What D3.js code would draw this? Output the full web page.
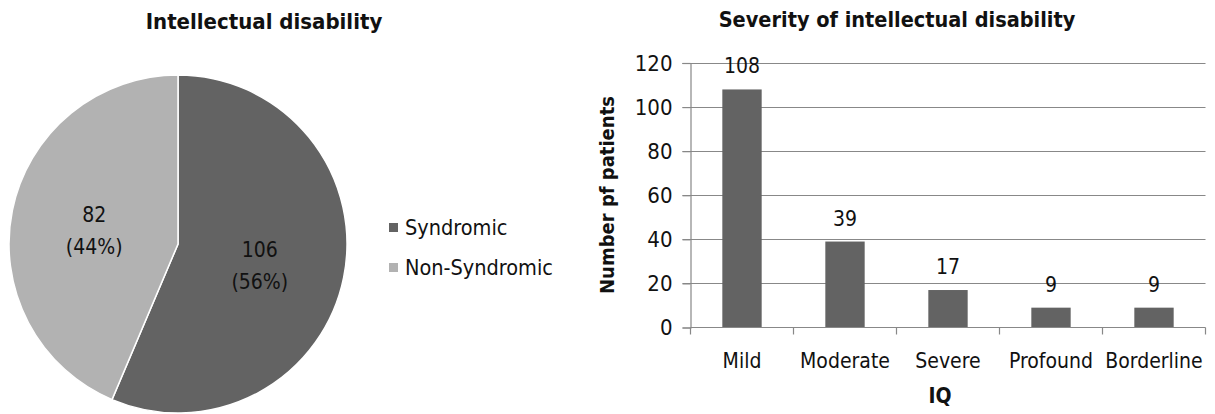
<!DOCTYPE html>
<html>
<head>
<meta charset="utf-8">
<script src="https://cdn.jsdelivr.net/npm/d3@7"></script>
<style>
  html, body { margin: 0; padding: 0; background: #fff; }
  svg { display: block; }
  text { font-family: "DejaVu Sans Condensed", "Liberation Sans Narrow", "Arial Narrow", sans-serif; fill: #111; }
  .title { font-weight: bold; }
</style>
</head>
<body>
<svg id="chart" width="1215" height="414"></svg>
<script>
// Pie: syndromic vs non-syndromic intellectual disability
const pieLabels = ["Syndromic", "Non-Syndromic"];
const pieValues = [106, 82];
const pieColors = ["#636363", "#b2b2b2"];

// Bars: patients by IQ severity category
const severityCategories = ["Mild", "Moderate", "Severe", "Profound", "Borderline"];
const severityCounts = [108, 39, 17, 9, 9];
const yTicks = [0, 20, 40, 60, 80, 100, 120];

const svg = d3.select("#chart");
const bodySize = 21;

// ---------- Pie chart ----------
svg.append("text").attr("class", "title")
  .attr("x", 264).attr("y", 29)
  .attr("text-anchor", "middle").attr("font-size", 22)
  .text("Intellectual disability");

const cx = 178, cy = 244, r = 169;
const total = d3.sum(pieValues);
const pie = d3.pie().sort(null).value(d => d)(pieValues);
const arc = d3.arc().innerRadius(0).outerRadius(r);
const pg = svg.append("g").attr("transform", `translate(${cx},${cy})`);
pg.selectAll("path").data(pie).join("path")
  .attr("d", arc)
  .attr("fill", (d, i) => pieColors[i])
  .attr("stroke", "#fff").attr("stroke-width", 1.5);

const labelArc = d3.arc().innerRadius(r * 0.5).outerRadius(r * 0.5);
const labelOffsets = [[-1, -1], [-1, -2]];
pie.forEach((d, i) => {
  const [lx, ly] = labelArc.centroid(d);
  const t = pg.append("text")
    .attr("text-anchor", "middle").attr("font-size", bodySize)
    .attr("transform", `translate(${lx + labelOffsets[i][0]},${ly + labelOffsets[i][1]})`);
  t.append("tspan").attr("x", 0).attr("dy", "-0.15em").text(d.value);
  t.append("tspan").attr("x", 0).attr("dy", "1.52em")
    .text(`(${Math.round(d.value / total * 100)}%)`);
});

const lg = svg.append("g").attr("transform", "translate(389,235)");
pieLabels.forEach((name, i) => {
  const row = lg.append("g").attr("transform", `translate(0,${i * 40})`);
  row.append("rect").attr("x", 0).attr("y", -12).attr("width", 9).attr("height", 9)
    .attr("fill", pieColors[i]);
  row.append("text").attr("x", 16).attr("y", 0).attr("font-size", bodySize + 0.5).text(name);
});

// ---------- Bar chart ----------
svg.append("text").attr("class", "title")
  .attr("x", 897).attr("y", 27)
  .attr("text-anchor", "middle").attr("font-size", 21.5)
  .text("Severity of intellectual disability");

const x0 = 690.5, x1 = 1205.5, yTop = 63, yBot = 327.5;
const x = d3.scaleBand().domain(severityCategories).range([x0, x1]).paddingInner(0.618).paddingOuter(0.309);
const y = d3.scaleLinear().domain([0, 120]).range([yBot, yTop]);
const axisColor = "#888";

// gridlines
svg.append("g").selectAll("line").data(yTicks.filter(v => v > 0)).join("line")
  .attr("x1", x0 - 8).attr("x2", x1)
  .attr("y1", d => Math.round(y(d)) + 0.5).attr("y2", d => Math.round(y(d)) + 0.5)
  .attr("stroke", axisColor).attr("stroke-width", 1.2);

// y axis
const yAxis = svg.append("g").attr("transform", `translate(${x0},0)`)
  .call(d3.axisLeft(y).tickValues(yTicks).tickSize(8).tickPadding(10));
yAxis.select(".domain").attr("stroke", axisColor).attr("stroke-width", 1.2);
yAxis.selectAll(".tick line").attr("stroke", axisColor).attr("stroke-width", 1.2);
yAxis.selectAll(".tick text").attr("font-size", 22).attr("fill", "#111")
  .attr("font-family", '"DejaVu Sans Condensed", "Liberation Sans Narrow", sans-serif');

// bars
svg.append("g").selectAll("rect").data(severityCounts).join("rect")
  .attr("x", (d, i) => x(severityCategories[i]))
  .attr("width", x.bandwidth())
  .attr("y", d => y(d))
  .attr("height", d => yBot - y(d))
  .attr("fill", "#636363");

// value labels
svg.append("g").selectAll("text").data(severityCounts).join("text")
  .attr("x", (d, i) => x(severityCategories[i]) + x.bandwidth() / 2)
  .attr("y", d => y(d) - 16)
  .attr("text-anchor", "middle").attr("font-size", bodySize)
  .text(d => d);

// x axis with boundary ticks
const step = (x1 - x0) / severityCategories.length;
const xg = svg.append("g");
xg.append("line").attr("x1", x0).attr("x2", x1).attr("y1", yBot).attr("y2", yBot)
  .attr("stroke", axisColor).attr("stroke-width", 1.2);
xg.selectAll("line.tk").data(d3.range(severityCategories.length + 1)).join("line")
  .attr("class", "tk")
  .attr("x1", i => x0 + i * step).attr("x2", i => x0 + i * step)
  .attr("y1", yBot).attr("y2", yBot + 7)
  .attr("stroke", axisColor).attr("stroke-width", 1.2);
xg.selectAll("text").data(severityCategories).join("text")
  .attr("x", d => x(d) + x.bandwidth() / 2)
  .attr("y", 368)
  .attr("text-anchor", "middle").attr("font-size", bodySize)
  .text(d => d);

// axis titles
svg.append("text").attr("class", "title")
  .attr("x", 940).attr("y", 403).attr("text-anchor", "middle").attr("font-size", 21)
  .text("IQ");
svg.append("text").attr("class", "title")
  .attr("transform", "translate(614,195) rotate(-90)")
  .attr("text-anchor", "middle").attr("font-size", 20)
  .text("Number pf patients");
</script>
</body>
</html>
